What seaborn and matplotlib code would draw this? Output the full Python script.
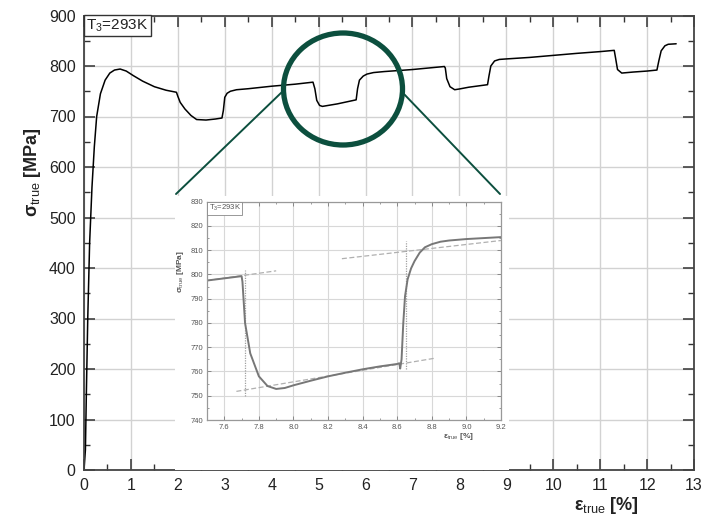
import numpy as np
import pandas as pd
import matplotlib
matplotlib.use("Agg")
import matplotlib.pyplot as plt
from matplotlib.patches import Ellipse, Rectangle
from matplotlib.lines import Line2D
import seaborn as sns

# ---------------- data ----------------
strain_main = [0.00, 0.03, 0.05, 0.08, 0.12, 0.17, 0.22, 0.27, 0.35, 0.45, 0.55, 0.65,
               0.77, 0.90, 1.05, 1.25, 1.50, 1.75, 1.97, 2.00, 2.05, 2.15, 2.28, 2.40,
               2.60, 2.80, 2.94, 2.97, 3.00, 3.05, 3.12, 3.25, 3.50, 4.00, 4.50, 4.88,
               4.92, 4.96, 5.02, 5.08, 5.40, 5.80, 5.83, 5.87, 5.95, 6.03, 6.17, 6.40,
               7.00, 7.68, 7.70, 7.73, 7.80, 7.90, 8.00, 8.20, 8.40, 8.60, 8.63, 8.67,
               8.75, 8.85, 9.00, 9.50, 10.00, 10.50, 11.00, 11.30, 11.33, 11.37, 11.46,
               11.70, 12.00, 12.21, 12.25, 12.30, 12.38, 12.45, 12.62]
stress_main = [0, 40, 150, 300, 450, 560, 640, 700, 745, 772, 786, 792,
               794, 790, 781, 770, 759, 752, 748, 740, 728, 715, 702, 694,
               693, 695, 697, 712, 738, 746, 750, 753, 755, 760, 764, 768,
               755, 732, 722, 720, 725, 733, 755, 772, 780, 784, 787, 789,
               793, 799, 796, 775, 759, 753, 754.5, 758, 760.5, 763, 780, 800,
               810, 813, 814, 817, 821, 825, 828.5, 831, 815, 793, 786,
               788, 790, 792, 810, 830, 840, 843, 844]

strain_zoom = [7.50, 7.60, 7.70, 7.705, 7.72, 7.75, 7.80, 7.85, 7.90, 7.95, 8.00, 8.10,
               8.20, 8.30, 8.40, 8.50, 8.60, 8.612, 8.617, 8.625, 8.635, 8.645, 8.66,
               8.68, 8.70, 8.73, 8.76, 8.80, 8.85, 8.90, 9.00, 9.10, 9.20]
stress_zoom = [797.5, 798.4, 799.3, 797.0, 780.0, 767.5, 758.0, 754.0, 752.8, 753.2, 754.3, 756.2,
               758.0, 759.5, 760.9, 762.1, 763.1, 763.4, 761.2, 765.0, 780.0, 791.0, 798.0,
               802.5, 805.5, 809.0, 811.2, 812.5, 813.5, 814.0, 814.6, 815.0, 815.4]

fit_lines = {
    "f1": ([7.50, 7.90], [797.5, 801.5]),
    "f2": ([7.67, 8.82], [751.8, 765.5]),
    "f3": ([8.28, 9.20], [806.5, 814.0]),
}
mark_lines = {
    "v1": ([7.72, 7.72], [750.0, 802.0]),
    "v2": ([8.65, 8.65], [761.0, 814.0]),
}

main_xticks = list(range(0, 14))
main_yticks = list(range(0, 901, 100))
zoom_xticks = [7.6, 7.8, 8.0, 8.2, 8.4, 8.6, 8.8, 9.0, 9.2]
zoom_xticklabels = ["7.6", "7.8", "8.0", "8.2", "8.4", "8.6", "8.8", "9.0", "9.2"]
zoom_yticks = list(range(740, 831, 10))
label_temp = "T$_3$=293K"

# ---------------- style ----------------
sns.set_style("ticks")
plt.rcParams["font.family"] = ["Liberation Sans", "DejaVu Sans"]
plt.rcParams["mathtext.fontset"] = "custom"
plt.rcParams["mathtext.rm"] = "Liberation Sans"
plt.rcParams["mathtext.it"] = "Liberation Sans:italic"
plt.rcParams["mathtext.bf"] = "Liberation Sans:bold"

W, H = 706, 519
fig = plt.figure(figsize=(W / 100, H / 100), dpi=100)

def fx(px):
    return px / W

def fy(py):
    return 1 - py / H

ax = fig.add_axes([fx(84), fy(470), fx(694) - fx(84), fy(15.5) - fy(470)])
df_main = pd.DataFrame({"strain": strain_main, "stress": stress_main})
sns.lineplot(data=df_main, x="strain", y="stress", sort=False, estimator=None,
             color="black", lw=1.1, ax=ax)
ax.set_xlim(0, 13)
ax.set_ylim(0, 900)
ax.set_xticks(main_xticks)
ax.set_yticks(main_yticks)
ax.set_xticks(np.arange(0.5, 13, 1.0), minor=True)
ax.set_yticks(np.arange(50, 900, 100), minor=True)
ax.grid(True, which="major", color="#d2d2d2", lw=1.0)
ax.set_axisbelow(True)
ax.tick_params(which="both", direction="in", top=True, right=True, color="#333333",
               labelsize=11.5, pad=6, labelcolor="#222222")
ax.tick_params(which="major", length=8, width=1.1)
ax.tick_params(which="minor", length=4, width=1.0)
for s in ax.spines.values():
    s.set_color("#444444")
    s.set_linewidth(1.3)

ax.set_xlabel("ε$_{\\mathrm{true}}$ [%]", fontsize=13, fontweight="bold", color="#222222")
ax.xaxis.set_label_coords(0.857, -0.055)
ax.set_ylabel("σ$_{\\mathrm{true}}$ [MPa]", fontsize=13, fontweight="bold", color="#222222")
ax.yaxis.set_label_coords(-0.068, 0.656)

ax.text(0.004, 0.996, label_temp, transform=ax.transAxes, ha="left", va="top",
        fontsize=11, color="#222222",
        bbox=dict(boxstyle="square,pad=0.18", fc="white", ec="#333333", lw=1.0))

# ---------------- highlight circle and connectors ----------------
green = "#0c4f3e"
circ = Ellipse((fx(343), fy(89)), fx(119), 112 / H, transform=fig.transFigure,
               fill=False, ec=green, lw=3.8, zorder=2)
fig.add_artist(circ)
fig.add_artist(Line2D([fx(176), fx(282)], [fy(194), fy(92)], transform=fig.transFigure,
                      color=green, lw=1.4, zorder=2))
fig.add_artist(Line2D([fx(403), fx(500)], [fy(93), fy(194)], transform=fig.transFigure,
                      color=green, lw=1.4, zorder=2))

# white background patch of the inset
bg = Rectangle((fx(175), fy(470)), fx(509) - fx(175), fy(196) - fy(470),
               transform=fig.transFigure, fc="white", ec="none", zorder=1.5)
fig.add_artist(bg)

# ---------------- inset ----------------
ins = fig.add_axes([fx(207), fy(420), fx(501) - fx(207), fy(201.7) - fy(420)])
ins.set_zorder(3)
df_zoom = pd.DataFrame({"strain": strain_zoom, "stress": stress_zoom})
for k, (xs, ys) in fit_lines.items():
    ins.plot(xs, ys, color="#b0b0b0", lw=0.9, ls=(0, (4, 2)))
for k, (xs, ys) in mark_lines.items():
    ins.plot(xs, ys, color="#a0a0a0", lw=0.9, ls=(0, (1, 1)))
sns.lineplot(data=df_zoom, x="strain", y="stress", sort=False, estimator=None,
             color="#777777", lw=1.4, ax=ins)
ins.set_xlim(7.5, 9.2)
ins.set_ylim(740, 830)
ins.set_xticks(zoom_xticks)
ins.set_xticklabels(zoom_xticklabels)
ins.set_yticks(zoom_yticks)
ins.set_xticks(np.arange(7.5, 9.21, 0.1), minor=True)
ins.set_yticks(np.arange(745, 830, 5), minor=True)
ins.grid(True, which="major", color="#d8d8d8", lw=0.8)
ins.set_axisbelow(True)
ins.tick_params(which="both", direction="in", top=True, right=True, color="#888888",
                labelsize=5.5, pad=3, labelcolor="#555555")
ins.tick_params(which="major", length=3, width=0.7)
ins.tick_params(which="minor", length=1.5, width=0.6)
for s in ins.spines.values():
    s.set_color("#999999")
    s.set_linewidth(0.9)
ins.set_xlabel("ε$_{\\mathrm{true}}$ [%]", fontsize=6, fontweight="bold", color="#555555")
ins.xaxis.set_label_coords(0.857, -0.05)
ins.set_ylabel("σ$_{\\mathrm{true}}$ [MPa]", fontsize=6, fontweight="bold", color="#555555")
ins.yaxis.set_label_coords(-0.07, 0.68)
ins.text(0.006, 0.993, label_temp, transform=ins.transAxes, ha="left", va="top",
         fontsize=5.5, color="#555555",
         bbox=dict(boxstyle="square,pad=0.2", fc="white", ec="#888888", lw=0.6))

fig.savefig("out.png", dpi=100)
